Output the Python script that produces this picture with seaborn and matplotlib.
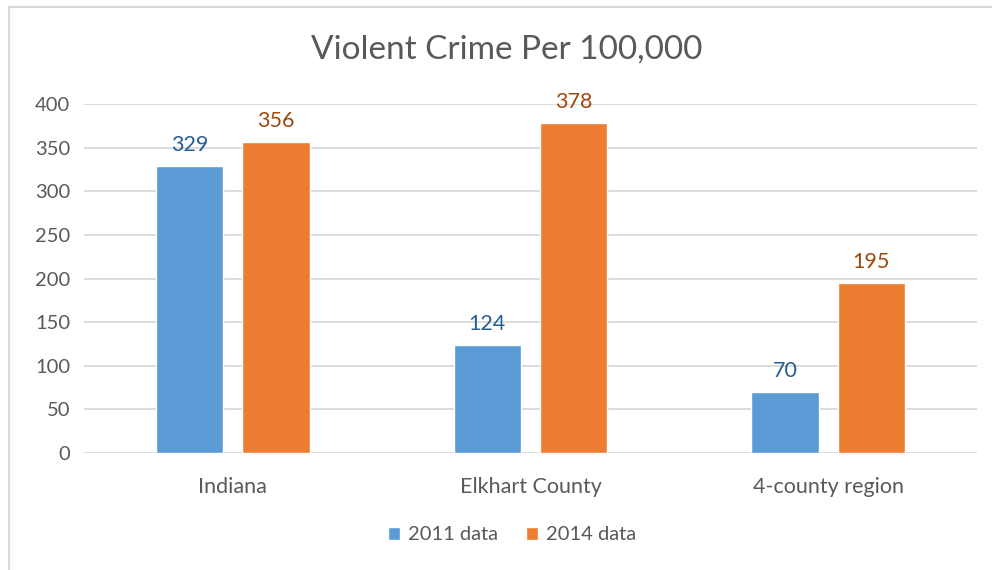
import pandas as pd
import seaborn as sns
import matplotlib.pyplot as plt
from matplotlib.patches import Rectangle

regions = ["Indiana", "Elkhart County", "4-county region"]
years = ["2011 data", "2014 data"]
crime_2011 = [329, 124, 70]
crime_2014 = [356, 378, 195]

data = pd.DataFrame({
    "region": regions * 2,
    "year": [years[0]] * 3 + [years[1]] * 3,
    "rate": crime_2011 + crime_2014,
})

sns.set_style("white")
plt.rcParams["font.family"] = ["Lato", "DejaVu Sans"]

bar_colors = ["#5B9BD5", "#ED7D31"]
label_colors = ["#255E91", "#9E480E"]
gray = "#595959"

fig = plt.figure(figsize=(9.92, 5.70), dpi=100)
ax = fig.add_axes([84 / 992, 1 - 453 / 570, (977 - 84) / 992, (453 - 104) / 570])

sns.barplot(data=data, x="region", y="rate", hue="year", palette=bar_colors,
            saturation=1, width=0.58, gap=0.22, ax=ax, legend=True)

for cont, col in zip(ax.containers, label_colors):
    ax.bar_label(cont, padding=8, color=col, fontsize=15.5)

ax.set_ylim(0, 400)
ax.set_xlim(-0.5, 2.5)
ax.set_yticks(range(0, 401, 50))
ax.yaxis.grid(True, color="#D9D9D9", linewidth=1.3)
ax.set_axisbelow(True)
for s in ax.spines.values():
    s.set_visible(False)
ax.tick_params(axis="y", length=0, labelsize=14.5, colors=gray, pad=10)
ax.tick_params(axis="x", length=0, labelsize=15.5, colors=gray, pad=17)
ax.set_xlabel("")
ax.set_ylabel("")

fig.suptitle("Violent Crime Per 100,000", x=507 / 992, y=1 - 50 / 570, va="center",
             fontsize=24, color=gray)

handles, labels = ax.get_legend_handles_labels()
ax.legend(handles, labels, loc="center", bbox_to_anchor=(0.5 + 16 / 992, 1 - 535 / 570),
          bbox_transform=fig.transFigure, ncol=2, frameon=False,
          fontsize=14.5, labelcolor=gray, handlelength=0.6, handleheight=0.6,
          handletextpad=0.4, columnspacing=1.4)

fig.patches.append(Rectangle((9 / 992, -0.1), 1.2, 1 - 7 / 570 + 0.1,
                             transform=fig.transFigure, fill=False,
                             edgecolor="#D9D9D9", linewidth=1.5))

fig.savefig("out.png", dpi=100)
